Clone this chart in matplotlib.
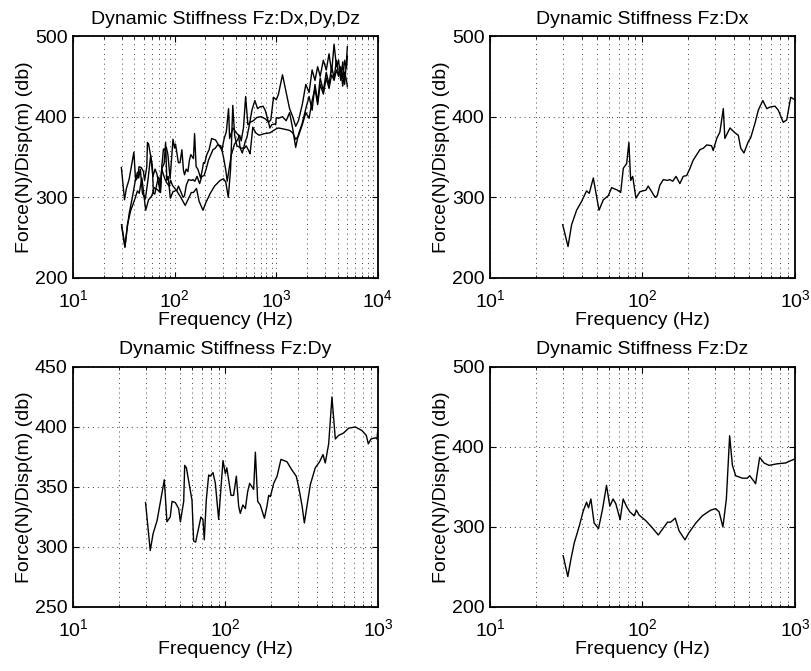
import numpy as np
import matplotlib
matplotlib.use('Agg')
import matplotlib.pyplot as plt
from matplotlib.ticker import LogLocator, FixedLocator, NullFormatter

plt.rcParams['font.family'] = ['Liberation Sans', 'DejaVu Sans']
plt.rcParams['mathtext.fontset'] = 'custom'
plt.rcParams['mathtext.rm'] = 'Liberation Sans'
plt.rcParams['mathtext.it'] = 'Liberation Sans:italic'

# Dx: force / displacement in x (30 Hz .. 1 kHz)
dxFreq = [30, 32.5, 34.3, 37, 39.9, 43, 44.8, 47.6, 51.9, 55.4,
          59.7, 62.8, 68.4, 72, 74.9, 78.8, 81.5, 83.7, 86.3, 90.6,
          96.3, 105.5, 109, 115, 121, 125, 130, 137, 146, 151,
          158, 166, 176, 185, 195, 205, 215, 238, 251, 264,
          284, 291, 307, 322, 339, 347, 375, 404, 425, 441,
          463, 494, 513, 547, 575, 615, 654, 686, 740, 778,
          838, 883, 938, 1000]
dxVal = [266, 239, 266, 284, 295, 308, 305, 324, 284, 297,
         302, 312, 309, 306, 336, 342, 368, 321, 326, 299,
         307, 309, 314, 307, 300, 302, 315, 322, 321, 322,
         320, 326, 317, 326, 327, 336, 346, 359, 361, 365,
         364, 358, 373, 381, 410, 373, 386, 380, 377, 361,
         355, 369, 374, 392, 408, 420, 410, 412, 413, 408,
         393, 396, 424, 421]

# Dy
dyFreq = [29.9, 32.1, 33.5, 35.6, 37, 39.7, 41.3, 43.4, 44.6, 46.9,
          49.3, 50.6, 53.2, 54, 55.4, 60.3, 61.8, 63.7, 66.7, 69,
          71.1, 72.6, 74.8, 77.6, 79.5, 82.8, 85.8, 90.2, 92.5, 96.3,
          99.8, 102, 108.7, 113, 117.8, 122, 125, 130, 135, 139.7,
          144, 153, 157, 162.6, 169, 180, 187, 192, 197, 207,
          218, 231, 253, 273, 291, 302, 318, 329, 342, 360,
          388, 414, 436, 451, 475, 499, 525, 552, 595, 642,
          711, 785, 838, 864, 900, 961, 985, 1000]
dyVal = [337, 297, 311, 322, 334, 356, 321, 325, 338, 337,
         332, 321, 338, 368, 366, 339, 305, 304, 316, 325,
         323, 306, 339, 360, 359, 362, 353, 323, 342, 372,
         361, 366, 343, 343, 359, 334, 328, 335, 332, 346,
         353, 348, 379, 338, 335, 324, 334, 343, 342, 353,
         359, 373, 371, 364, 359, 350, 334, 320, 334, 352,
         366, 371, 377, 370, 386, 425, 390, 393, 395, 399,
         400, 397, 393, 386, 390, 391, 390, 399]

# Dz
dzFreq = [30.2, 32.4, 33.9, 35.7, 38.5, 40.9, 43, 44.3, 45.9, 48.2,
          51.5, 54.7, 58.1, 61.1, 64.2, 66.9, 71.4, 74.7, 78.5, 82.6,
          88.2, 91.3, 95, 105, 116, 127, 135, 146, 153, 164,
          174, 190, 202, 224, 247, 280, 302, 318, 337, 355,
          373, 389, 409, 452, 487, 505, 539, 552, 587, 627,
          676, 766, 869, 914, 1000]
dzVal = [264, 238, 259, 280, 301, 320, 331, 324, 335, 305,
         298, 322, 352, 326, 335, 329, 309, 335, 326, 319,
         314, 321, 315, 308, 299, 290, 297, 306, 306, 311,
         295, 284, 293, 305, 314, 321, 323, 319, 300, 335,
         414, 377, 364, 361, 361, 364, 357, 354, 387, 380,
         377, 379, 380, 382, 385]

# upper band (1 kHz .. 5 kHz), only shown in the combined plot
hiFreq = [1050, 1150, 1250, 1350, 1450, 1550, 1650, 1800, 1950, 2100,
          2250, 2400, 2550, 2700, 2900, 3100, 3300, 3500, 3700, 3900,
          4100, 4300, 4500, 4700, 4900, 5000]
dxHi = [428, 452, 430, 410, 400, 388, 395, 415, 440, 430,
        458, 445, 462, 450, 470, 458, 478, 455, 490, 462,
        470, 445, 468, 440, 470, 487]
dyHi = [398, 400, 395, 405, 385, 362, 378, 392, 410, 425,
        408, 440, 418, 448, 432, 455, 440, 462, 448, 470,
        452, 460, 438, 455, 445, 437]
dzHi = [386, 385, 384, 383, 380, 372, 376, 390, 405, 398,
        420, 435, 415, 440, 428, 448, 435, 452, 445, 458,
        450, 462, 447, 470, 460, 475]

FS = 14

def StyleAxes(ax, xmax, ylim, yticks):
    ax.set_xscale('log')
    ax.set_xlim(10, xmax)
    ax.set_ylim(*ylim)
    ax.yaxis.set_major_locator(FixedLocator(yticks))
    ax.xaxis.set_major_locator(LogLocator(base=10, numticks=10))
    ax.xaxis.set_minor_locator(LogLocator(base=10, subs=np.arange(2, 10), numticks=10))
    ax.xaxis.set_minor_formatter(NullFormatter())
    ax.tick_params(which='both', direction='in', top=True, right=True, labelsize=FS)
    ax.tick_params(which='major', length=4, width=0.8)
    ax.tick_params(axis='x', which='major', pad=8)
    ax.tick_params(axis='y', which='major', pad=4)
    ax.tick_params(which='minor', length=2, width=0.6)
    for s in ax.spines.values():
        s.set_linewidth(1.3)
    ax.grid(True, which='major', axis='both', color='0.25', linestyle=(0, (1, 4)), linewidth=0.7)
    ax.grid(True, which='minor', axis='x', color='0.25', linestyle=(0, (1, 4)), linewidth=0.7)
    ax.set_xlabel('Frequency (Hz)', fontsize=FS, labelpad=1)
    ax.set_ylabel('Force(N)/Disp(m) (db)', fontsize=FS, labelpad=1)

def Plot():
    fig = plt.figure(figsize=(8.12, 6.71), dpi=100)
    ax1 = fig.add_axes([0.0899, 0.5857, 0.3756, 0.3606])
    ax2 = fig.add_axes([0.6034, 0.5857, 0.3756, 0.3606])
    ax3 = fig.add_axes([0.0899, 0.0954, 0.3756, 0.3577])
    ax4 = fig.add_axes([0.6034, 0.0954, 0.3756, 0.3577])

    # all three directions
    ax1.plot(dxFreq + hiFreq, dxVal + dxHi, color='k', linewidth=1.0)
    ax1.plot(dyFreq + hiFreq, dyVal + dyHi, color='k', linewidth=1.0)
    ax1.plot(dzFreq + hiFreq, dzVal + dzHi, color='k', linewidth=1.0)
    StyleAxes(ax1, 1e4, (200, 500), [200, 300, 400, 500])
    ax1.set_title('Dynamic Stiffness Fz:Dx,Dy,Dz', fontsize=FS, pad=9)

    ax2.plot(dxFreq, dxVal, color='k', linewidth=1.0)
    StyleAxes(ax2, 1e3, (200, 500), [200, 300, 400, 500])
    ax2.set_title('Dynamic Stiffness Fz:Dx', fontsize=FS, pad=9)

    ax3.plot(dyFreq, dyVal, color='k', linewidth=1.0)
    StyleAxes(ax3, 1e3, (250, 450), [250, 300, 350, 400, 450])
    ax3.set_title('Dynamic Stiffness Fz:Dy', fontsize=FS, pad=9)

    ax4.plot(dzFreq, dzVal, color='k', linewidth=1.0)
    StyleAxes(ax4, 1e3, (200, 500), [200, 300, 400, 500])
    ax4.set_title('Dynamic Stiffness Fz:Dz', fontsize=FS, pad=9)

    fig.savefig('out.png', dpi=100)

Plot()
